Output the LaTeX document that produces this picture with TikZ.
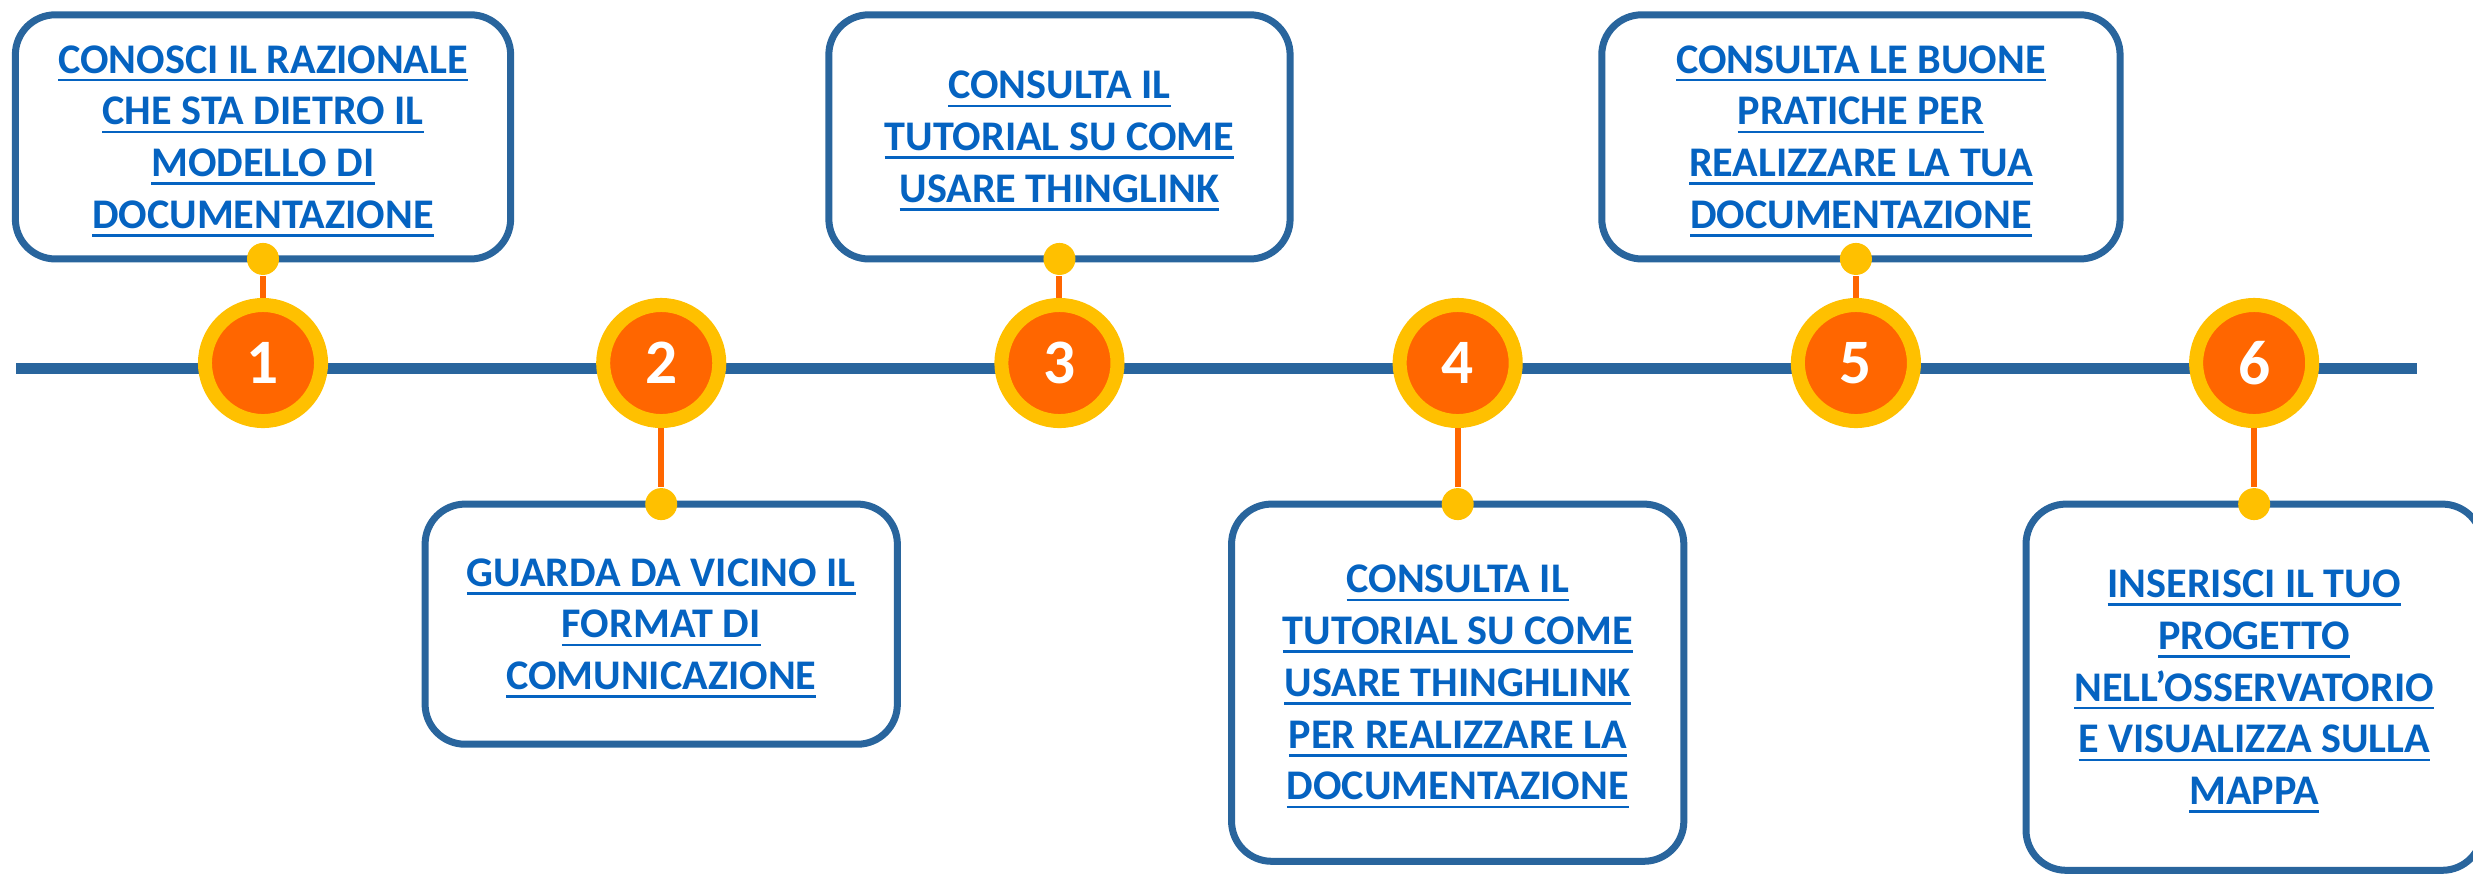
\documentclass[tikz,border=0pt]{standalone}
\usepackage{fontspec}
\setmainfont{Carlito}
\usetikzlibrary{positioning}
\definecolor{lineColor}{RGB}{41,101,157}
\definecolor{linkColor}{RGB}{5,99,193}
\definecolor{ringColor}{RGB}{255,192,0}
\definecolor{stepColor}{RGB}{255,102,0}
\newcommand{\boxfont}{\fontsize{12}{14.7}\selectfont\bfseries}
\newcommand{\numfont}{\fontsize{18}{20}\selectfont\bfseries}
\newsavebox{\lnkbox}
\newcommand{\lnk}[1]{\sbox{\lnkbox}{#1}\rlap{\smash{\rule[-2.4pt]{\wd\lnkbox}{0.75pt}}}\usebox{\lnkbox}}

\begin{document}
\begin{tikzpicture}[
    x=0.01cm, y=-0.01cm,
    stepnum/.style={circle, draw=ringColor, line width=0.14cm, fill=stepColor, minimum size=1.16cm, inner sep=0pt, text=white, font=\numfont},
    card/.style={draw=lineColor, line width=0.07cm, rounded corners=0.4cm, fill=white, outer sep=0pt, align=center, text=linkColor, font=\boxfont},
    knob/.style={circle, fill=ringColor, minimum size=0.32cm, inner sep=0pt},
    stem/.style={stepColor, line width=0.06cm},
    timeline/.style={lineColor, line width=0.11cm},
    node distance=0.39cm and 2.68cm
  ]
  \useasboundingbox (0,0) rectangle (2473,875);
  \coordinate (tstart) at (16,368);
  \coordinate (tend) at (2417,368);
  \draw[timeline] (tstart) -- (tend);

  % steps on the line
  \node[stepnum] (s1) at (263,363) {1};
  \node[stepnum, right=of s1] (s2) {2};
  \node[stepnum, right=of s2] (s3) {3};
  \node[stepnum, right=of s3] (s4) {4};
  \node[stepnum, right=of s4] (s5) {5};
  \node[stepnum, right=of s5] (s6) {6};

  % boxes
  \node[card, minimum width=4.95cm, minimum height=2.44cm, above=of s1] (b1)
    {\lnk{CONOSCI IL RAZIONALE}\\ \lnk{CHE STA DIETRO IL}\\ \lnk{MODELLO DI}\\ \lnk{DOCUMENTAZIONE}};
  \node[card, minimum width=4.72cm, minimum height=2.40cm, below=0.76cm of s2] (b2)
    {\lnk{GUARDA DA VICINO IL}\\ \lnk{FORMAT DI}\\ \lnk{COMUNICAZIONE}};
  \node[card, minimum width=4.61cm, minimum height=2.44cm, above=of s3] (b3)
    {\lnk{CONSULTA IL}\\ \lnk{TUTORIAL SU COME}\\ \lnk{USARE THINGLINK}};
  \node[card, minimum width=4.52cm, minimum height=3.57cm, below=0.76cm of s4] (b4)
    {\lnk{CONSULTA IL}\\ \lnk{TUTORIAL SU COME}\\ \lnk{USARE THINGHLINK}\\ \lnk{PER REALIZZARE LA}\\ \lnk{DOCUMENTAZIONE}};
  \node[card, minimum width=5.18cm, minimum height=2.44cm, above=of s5, xshift=0.05cm] (b5)
    {\lnk{CONSULTA LE BUONE}\\ \lnk{PRATICHE PER}\\ \lnk{REALIZZARE LA TUA}\\ \lnk{DOCUMENTAZIONE}};
  \node[card, minimum width=4.56cm, minimum height=3.66cm, below=0.76cm of s6] (b6)
    {\lnk{INSERISCI IL TUO}\\ \lnk{PROGETTO}\\ \lnk{NELL’OSSERVATORIO}\\ \lnk{E VISUALIZZA SULLA}\\ \lnk{MAPPA}};

  % pins on the boxes
  \node[knob] (d1) at (b1.south -| s1) {};
  \node[knob] (d2) at (b2.north) {};
  \node[knob] (d3) at (b3.south) {};
  \node[knob] (d4) at (b4.north) {};
  \node[knob] (d5) at (b5.south -| s5) {};
  \node[knob] (d6) at (b6.north) {};

  \draw[stem] (s1) -- (d1);
  \draw[stem] (s2) -- (d2);
  \draw[stem] (s3) -- (d3);
  \draw[stem] (s4) -- (d4);
  \draw[stem] (s5) -- (d5);
  \draw[stem] (s6) -- (d6);
\end{tikzpicture}
\end{document}
